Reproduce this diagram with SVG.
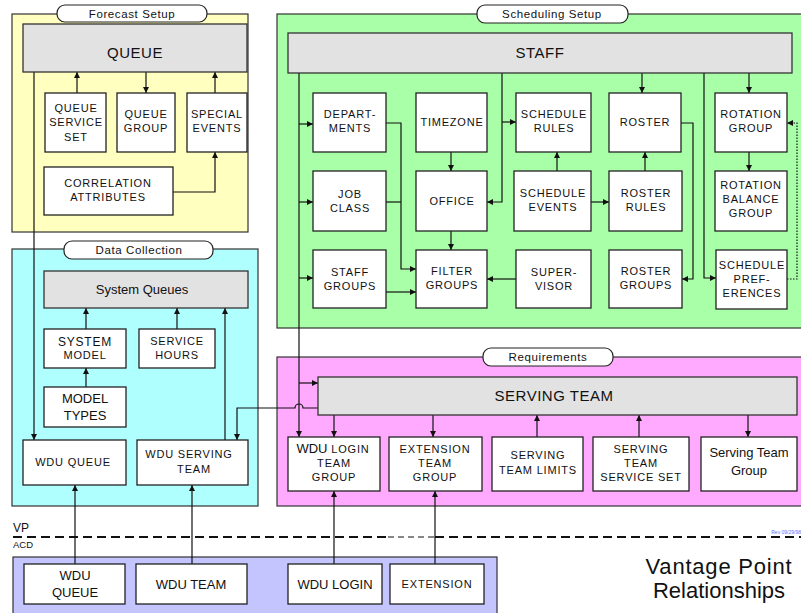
<svg xmlns="http://www.w3.org/2000/svg" width="801" height="613" viewBox="0 0 801 613">
<defs>
<marker id="ar" markerUnits="userSpaceOnUse" markerWidth="7" markerHeight="7" refX="6" refY="3.5" orient="auto"><path d="M0,0.5 L6,3.5 L0,6.5 z" fill="#111"/></marker>
<style>
.panel{stroke:#333;stroke-width:1.2}
.pill{fill:#fff;stroke:#222;stroke-width:1.2}
.box{fill:#fff;stroke:#222;stroke-width:1.3}
.gbox{fill:#e2e2e2;stroke:#333;stroke-width:1.3}
text{font-family:"Liberation Sans",Arial,sans-serif;fill:#111;text-anchor:middle}
.t{font-size:11px;letter-spacing:0.8px}
.big{font-size:15px;letter-spacing:0.5px}
.m{font-size:13px}
.pl{font-size:11.5px;letter-spacing:0.6px}
.c{fill:none;stroke:#111;stroke-width:1.2}
.a{marker-end:url(#ar)}
</style>
</defs>

<!-- panels -->
<g id="panels">
<rect class="panel" x="12" y="14" width="236" height="218" fill="#ffffc0"/>
<rect class="panel" x="277" y="14" width="530" height="314" fill="#a8ffa8"/>
<rect class="panel" x="12" y="249" width="246" height="257" fill="#b0ffff"/>
<rect class="panel" x="277" y="357" width="530" height="149" fill="#ffaaff"/>
<rect class="panel" x="13" y="557" width="484" height="70" fill="#c4c4ff"/>
</g>
<g id="pills">
<rect class="pill" x="57" y="5" width="150" height="17" rx="8"/><text class="pl" x="132" y="17.5">Forecast Setup</text>
<rect class="pill" x="477" y="5" width="151" height="18" rx="8"/><text class="pl" x="552" y="18">Scheduling Setup</text>
<rect class="pill" x="64" y="241" width="149" height="18" rx="8"/><text class="pl" x="139" y="254">Data Collection</text>
<rect class="pill" x="483" y="348" width="130" height="18" rx="8"/><text class="pl" x="548" y="361">Requirements</text>
</g>

<!-- connectors -->
<g id="connectors">
<path class="c a" d="M77,93 V72"/>
<path class="c a" d="M146,72 V93"/>
<path class="c a" d="M215,93 V72"/>
<path class="c a" d="M173,192 H215 V152"/>
<path class="c a" d="M34,72 V440"/>
<path class="c a" d="M299,73 V437"/>
<path class="c a" d="M299,124 H313"/>
<path class="c a" d="M299,202 H313"/>
<path class="c a" d="M299,278 H313"/>
<path class="c a" d="M299,383 H318"/>
<path class="c a" d="M502,73 V202 H487"/>
<path class="c a" d="M502,122 H516"/>
<path class="c a" d="M642,73 V93"/>
<path class="c a" d="M749,73 V93"/>
<path class="c a" d="M704,73 V278 H716"/>
<path class="c a" d="M681,123 H693 V279 H682"/>
<path class="c a" d="M386,123 H401 V269 H416"/>
<path class="c" d="M386,202 H401"/>
<path class="c a" d="M386,292 H416"/>
<path class="c a" d="M451,152 V171"/>
<path class="c a" d="M451,231 V250"/>
<path class="c a" d="M516,279 H487"/>
<path class="c a" d="M557,171 V152"/>
<path class="c a" d="M591,202 H609"/>
<path class="c a" d="M645,171 V152"/>
<path class="c a" d="M749,152 V171"/>
<path class="c a" d="M787,279 H797 V123 H787" stroke-dasharray="1.5,1.5"/>
<path class="c a" d="M86,329 V308"/>
<path class="c a" d="M86,387 V368"/>
<path class="c a" d="M177,329 V308"/>
<path class="c a" d="M225,440 V308"/>
<path class="c a" d="M318,408 H303 A4,4 0 0 0 295,408 H237 V440"/>
<path class="c a" d="M75,564 V485"/>
<path class="c a" d="M192,564 V485"/>
<path class="c a" d="M334,415 V437"/>
<path class="c a" d="M433,415 V437"/>
<path class="c a" d="M537,437 V415"/>
<path class="c a" d="M639,437 V415"/>
<path class="c a" d="M748,415 V437"/>
<path class="c a" d="M334,564 V491"/>
<path class="c a" d="M435,564 V491"/>
</g>

<!-- Forecast Setup nodes -->
<g id="queue"><rect class="gbox" x="23" y="24" width="224" height="48"/><text class="big" x="135" y="58">QUEUE</text></g>
<g id="queue-service-set"><rect class="box" x="45" y="93" width="61" height="59"/><text class="t" x="76" y="112">QUEUE</text><text class="t" x="76" y="126">SERVICE</text><text class="t" x="76" y="141">SET</text></g>
<g id="queue-group"><rect class="box" x="117" y="93" width="58" height="59"/><text class="t" x="146" y="118">QUEUE</text><text class="t" x="146" y="132">GROUP</text></g>
<g id="special-events"><rect class="box" x="187" y="93" width="60" height="59"/><text class="t" x="217" y="118">SPECIAL</text><text class="t" x="217" y="132">EVENTS</text></g>
<g id="correlation-attributes"><rect class="box" x="44" y="167" width="129" height="48"/><text class="t" x="108" y="187">CORRELATION</text><text class="t" x="108" y="201">ATTRIBUTES</text></g>

<!-- Scheduling Setup nodes -->
<g id="staff"><rect class="gbox" x="288" y="33" width="504" height="40"/><text class="big" x="540" y="58">STAFF</text></g>
<g id="departments"><rect class="box" x="313" y="93" width="73" height="59"/><text class="t" x="350" y="118">DEPART-</text><text class="t" x="350" y="132">MENTS</text></g>
<g id="timezone"><rect class="box" x="416" y="93" width="71" height="59"/><text class="t" x="452" y="126">TIMEZONE</text></g>
<g id="schedule-rules"><rect class="box" x="516" y="93" width="75" height="59"/><text class="t" x="554" y="118">SCHEDULE</text><text class="t" x="554" y="132">RULES</text></g>
<g id="roster"><rect class="box" x="609" y="93" width="72" height="59"/><text class="t" x="645" y="126">ROSTER</text></g>
<g id="rotation-group"><rect class="box" x="715" y="93" width="72" height="59"/><text class="t" x="751" y="118">ROTATION</text><text class="t" x="751" y="132">GROUP</text></g>
<g id="job-class"><rect class="box" x="313" y="171" width="73" height="60"/><text class="t" x="350" y="198">JOB</text><text class="t" x="350" y="212">CLASS</text></g>
<g id="office"><rect class="box" x="416" y="171" width="71" height="60"/><text class="t" x="452" y="205">OFFICE</text></g>
<g id="schedule-events"><rect class="box" x="514" y="171" width="77" height="60"/><text class="t" x="553" y="197">SCHEDULE</text><text class="t" x="553" y="211">EVENTS</text></g>
<g id="roster-rules"><rect class="box" x="609" y="171" width="73" height="60"/><text class="t" x="646" y="197">ROSTER</text><text class="t" x="646" y="211">RULES</text></g>
<g id="rotation-balance-group"><rect class="box" x="715" y="171" width="72" height="60"/><text class="t" x="751" y="189">ROTATION</text><text class="t" x="751" y="203">BALANCE</text><text class="t" x="751" y="217">GROUP</text></g>
<g id="staff-groups"><rect class="box" x="313" y="250" width="73" height="58"/><text class="t" x="350" y="276">STAFF</text><text class="t" x="350" y="290">GROUPS</text></g>
<g id="filter-groups"><rect class="box" x="416" y="250" width="71" height="58"/><text class="t" x="452" y="275">FILTER</text><text class="t" x="452" y="289">GROUPS</text></g>
<g id="supervisor"><rect class="box" x="516" y="250" width="75" height="58"/><text class="t" x="554" y="276">SUPER-</text><text class="t" x="554" y="290">VISOR</text></g>
<g id="roster-groups"><rect class="box" x="609" y="250" width="73" height="58"/><text class="t" x="646" y="275">ROSTER</text><text class="t" x="646" y="289">GROUPS</text></g>
<g id="schedule-preferences"><rect class="box" x="716" y="250" width="71" height="59"/><text class="t" x="752" y="269">SCHEDULE</text><text class="t" x="752" y="283">PREF-</text><text class="t" x="752" y="297">ERENCES</text></g>

<!-- Data Collection nodes -->
<g id="system-queues"><rect class="gbox" x="44" y="271" width="204" height="37"/><text class="m" x="142" y="294">System Queues</text></g>
<g id="system-model"><rect class="box" x="44" y="329" width="82" height="39"/><text class="t" x="85" y="346" style="font-size:12px">SYSTEM</text><text class="t" x="85" y="359">MODEL</text></g>
<g id="service-hours"><rect class="box" x="139" y="329" width="76" height="39"/><text class="t" x="177" y="345">SERVICE</text><text class="t" x="177" y="359">HOURS</text></g>
<g id="model-types"><rect class="box" x="44" y="387" width="82" height="40"/><text class="m" x="85" y="403">MODEL</text><text class="m" x="85" y="420">TYPES</text></g>
<g id="wdu-queue"><rect class="box" x="23" y="440" width="103" height="45"/><text class="t" x="73" y="466">WDU QUEUE</text></g>
<g id="wdu-serving-team"><rect class="box" x="137" y="440" width="111" height="45"/><text class="t" x="189" y="458">WDU SERVING</text><text class="t" x="194" y="473">TEAM</text></g>

<!-- Requirements nodes -->
<g id="serving-team"><rect class="gbox" x="318" y="377" width="479" height="38"/><text class="big" x="554" y="401">SERVING TEAM</text></g>
<g id="wdu-login-team-group"><rect class="box" x="288" y="437" width="92" height="54"/><text class="t" x="333" y="453"><tspan style="font-size:13px;letter-spacing:0">WDU</tspan> LOGIN</text><text class="t" x="334" y="467">TEAM</text><text class="t" x="334" y="481">GROUP</text></g>
<g id="extension-team-group"><rect class="box" x="389" y="437" width="93" height="54"/><text class="t" x="435" y="453">EXTENSION</text><text class="t" x="435" y="467">TEAM</text><text class="t" x="435" y="481">GROUP</text></g>
<g id="serving-team-limits"><rect class="box" x="492" y="437" width="91" height="54"/><text class="t" x="538" y="459">SERVING</text><text class="t" x="538" y="474">TEAM LIMITS</text></g>
<g id="serving-team-service-set"><rect class="box" x="593" y="437" width="96" height="54"/><text class="t" x="641" y="453">SERVING</text><text class="t" x="641" y="467">TEAM</text><text class="t" x="641" y="481">SERVICE SET</text></g>
<g id="serving-team-group"><rect class="box" x="701" y="437" width="96" height="54"/><text class="m" x="749" y="457">Serving Team</text><text class="m" x="749" y="475">Group</text></g>

<!-- VP / ACD divider -->
<g id="divider">
<text x="13" y="532" style="font-size:12px;text-anchor:start">VP</text>
<text x="13" y="548" style="font-size:9.5px;text-anchor:start">ACD</text>
<path d="M13,537 H388" stroke="#111" stroke-width="2.2" stroke-dasharray="9,5"/>
<path d="M388,537 H435" stroke="#111" stroke-width="1.2" stroke-dasharray="6,4"/>
<path d="M435,537 H801" stroke="#111" stroke-width="2.2" stroke-dasharray="9,5"/>
<text x="801" y="534" style="font-size:5px;text-anchor:end;fill:#6b6bff">Rev 09/29/98</text>
</g>

<!-- ACD nodes -->
<g id="acd-wdu-queue"><rect class="box" x="24" y="564" width="101" height="40"/><text class="m" x="75" y="580">WDU</text><text class="m" x="75" y="597">QUEUE</text></g>
<g id="acd-wdu-team"><rect class="box" x="136" y="564" width="111" height="40"/><text class="m" x="191" y="589">WDU TEAM</text></g>
<g id="acd-wdu-login"><rect class="box" x="288" y="564" width="94" height="40"/><text class="m" x="335" y="589">WDU LOGIN</text></g>
<g id="acd-extension"><rect class="box" x="390" y="564" width="94" height="40"/><text class="t" x="437" y="588">EXTENSION</text></g>

<g id="title">
<text x="719" y="574" style="font-size:22px;letter-spacing:0.8px">Vantage Point</text>
<text x="719" y="598" style="font-size:22px">Relationships</text>
</g>
</svg>
